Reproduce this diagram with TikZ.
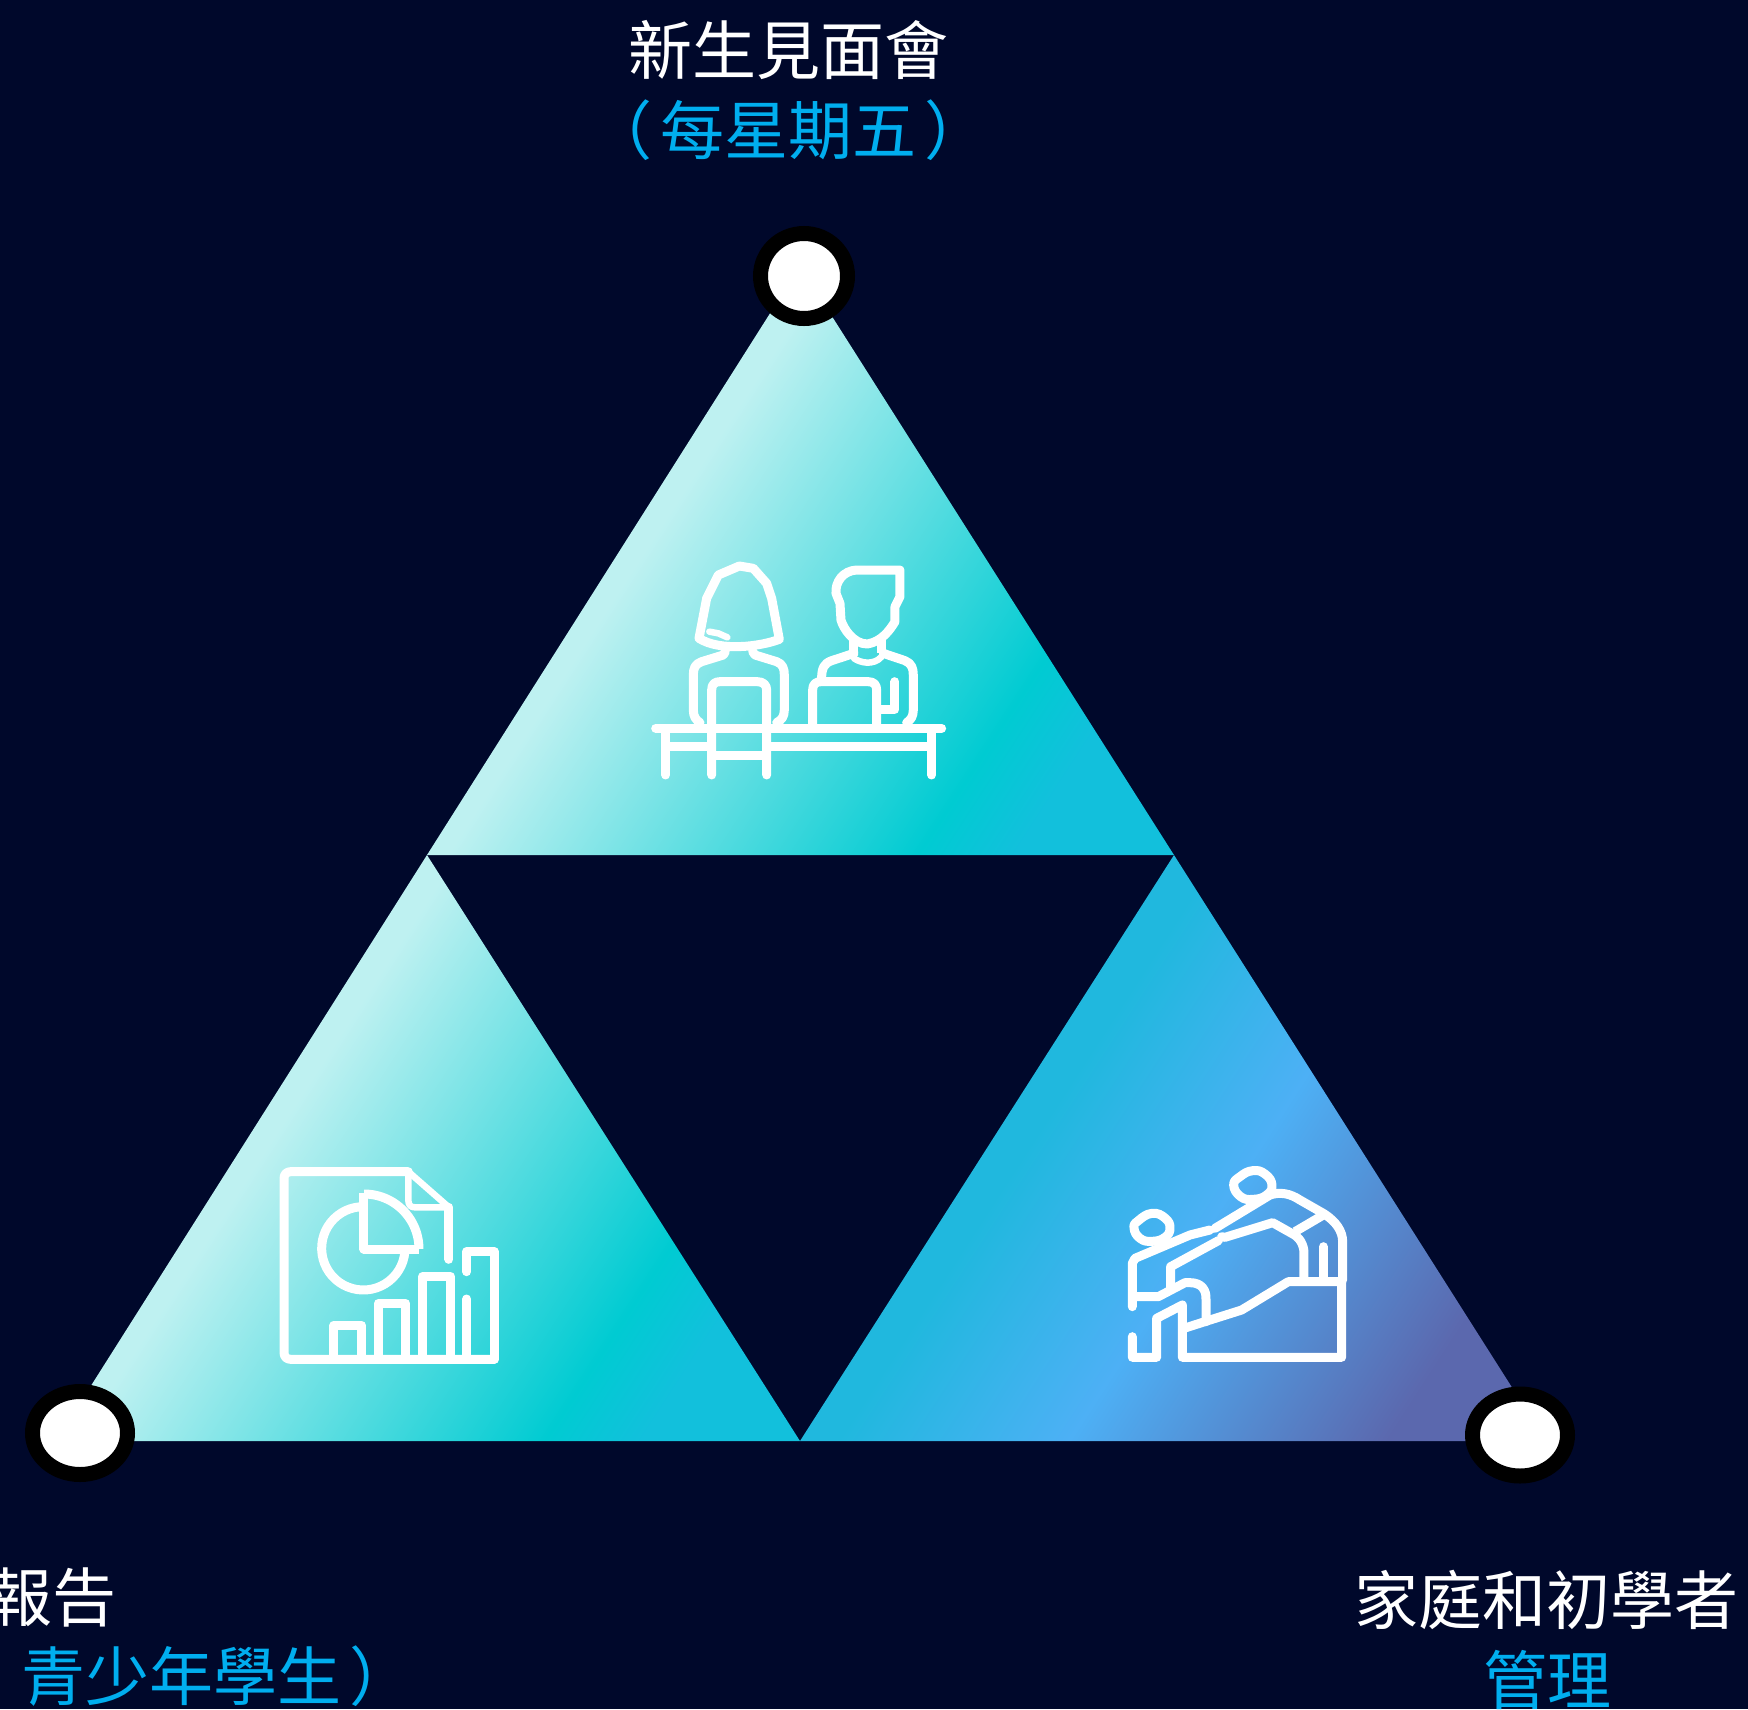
\documentclass[tikz,border=0pt]{standalone}
\usepackage{fontspec}
\newfontfamily\cjk{Noto Sans CJK TC}
\usetikzlibrary{shapes.geometric}
\definecolor{bgnavy}{HTML}{00082B}
\definecolor{capblue}{HTML}{00AEEF}
\definecolor{gA}{HTML}{BEF1F1}
\definecolor{gB}{HTML}{00CBD2}
\definecolor{gC}{HTML}{12C0DC}
\definecolor{gC2}{HTML}{20B8DE}
\definecolor{gD}{HTML}{4DB0F5}
\definecolor{gE}{HTML}{5B68AE}
\pgfdeclarehorizontalshading{lightteal}{100bp}{color(0bp)=(gA); color(40bp)=(gA); color(69bp)=(gB); color(75bp)=(gC); color(100bp)=(gC)}
\pgfdeclarehorizontalshading{bluepurple}{100bp}{color(0bp)=(gC2); color(41bp)=(gC2); color(55.3bp)=(gD); color(75bp)=(gE); color(100bp)=(gE)}
\tikzset{
  tone/.style={shading=lightteal, shading angle=-33},
  toneblue/.style={shading=bluepurple, shading angle=-33},
  ring/.style={shape=ellipse, draw=black, fill=white, line width=15pt, inner sep=0pt, outer sep=0pt},
  head/.style={font=\cjk\fontsize{64}{70}\selectfont, text=white, inner sep=0pt},
  sub/.style={font=\cjk\fontsize{64}{70}\selectfont, text=capblue, inner sep=0pt},
  icon/.style={draw=white, line width=9pt, line cap=round, line join=round},
  iconflat/.style={icon, line cap=butt},
  iconthin/.style={icon, line width=6.5pt},
  zoomA/.style={shift={(#1)}, x=0.3333pt, y=-0.3333pt},
}
\begin{document}
\begin{tikzpicture}[x=1pt,y=-1pt]
\useasboundingbox (0,0) rectangle (1748,1709);
\fill[bgnavy] (0,0) rectangle (1748,1709);
\clip (0,0) rectangle (1748,1709);
% vertices
\coordinate (T) at (800,266);
\coordinate (TL) at (427,855);
\coordinate (TR) at (1174,855);
\coordinate (BL) at (56,1441);
\coordinate (BM) at (800,1441);
\coordinate (BR) at (1546,1441);
% triangles
\shade[tone] (T) -- (TL) -- (TR) -- cycle;
\shade[tone] (TL) -- (BL) -- (BM) -- cycle;
\shade[toneblue] (TR) -- (BM) -- (BR) -- cycle;
% rings
\node[ring, minimum width=87pt, minimum height=85pt] (ringT) at (804,276) {};
\node[ring, minimum width=95pt, minimum height=83pt] (ringL) at (80,1433) {};
\node[ring, minimum width=95pt, minimum height=82pt] (ringR) at (1520,1435) {};
% captions
\node[head, anchor=base] (t1) at (788,74) {新生見面會};
\node[sub, anchor=base] (t2) at (788,154) {（\kern8pt 每星期五\kern8pt ）};
\node[head, anchor=base east] (l1) at (117,1621) {報告};
\node[sub, anchor=base west] (l2) at (21,1700) {青少年學生\kern8pt ）};
\node[head, anchor=base] (r1) at (1546,1624) {家庭和初學者};
\node[sub, anchor=base] (r2) at (1547,1704) {管理};
% icon: two people at a table
\begin{scope}[zoomA={620,540}]
\draw[icon] (237,295) -- (260,175) -- (295,105) -- (358,78) -- (400,85) -- (440,130) -- (455,175) -- (478,298) .. controls (420,320) and (300,335) .. (237,295) -- cycle;
\draw[iconthin] (268,275) -- (295,280) -- (322,292);
\draw[icon] (316,335) -- (310,345) -- (245,365) .. controls (225,372) and (220,385) .. (220,405) -- (220,510) .. controls (220,530) and (228,540) .. (240,548);
\draw[icon] (398,335) -- (405,345) -- (470,365) .. controls (488,372) and (493,385) .. (493,405) -- (493,510) .. controls (493,530) and (485,540) .. (470,548);
\draw[icon] (275,705) -- (275,450) .. controls (275,432) and (285,425) .. (300,425) -- (412,425) .. controls (430,425) and (440,435) .. (440,450) -- (440,705);
\draw[iconflat] (275,648) -- (440,648);
\draw[icon] (107,565) -- (965,565);
\draw[icon] (137,575) -- (137,705);
\draw[icon] (935,575) -- (935,705);
\draw[iconflat] (137,620) -- (275,620);
\draw[iconflat] (440,620) -- (935,620);
\draw[icon] (840,90) -- (710,90) .. controls (670,92) and (645,125) .. (648,160) -- (660,190) -- (663,240) .. controls (670,265) and (700,312) .. (742,312) .. controls (785,305) and (810,270) .. (825,245) -- (825,200) -- (840,170) -- cycle;
\draw[iconflat] (702,300) -- (702,340);
\draw[iconflat] (785,300) -- (785,340);
\draw[iconthin] (702,355) .. controls (720,368) and (760,378) .. (785,350);
\draw[icon] (702,340) -- (635,362) .. controls (612,370) and (605,385) .. (605,415);
\draw[icon] (790,340) -- (855,362) .. controls (875,370) and (880,385) .. (880,405) -- (880,510) .. controls (880,530) and (872,540) .. (860,548);
\draw[icon] (578,555) -- (578,450) .. controls (578,432) and (588,425) .. (603,425) -- (745,425) .. controls (762,425) and (770,435) .. (770,450) -- (770,555);
\draw[icon] (825,425) -- (825,508) -- (775,508);
\end{scope}
% icon: report
\begin{scope}[zoomA={260,1150}]
\draw[icon] (445,65) -- (92,65) .. controls (80,65) and (72,73) .. (72,85) -- (72,608) .. controls (72,620) and (80,628) .. (92,628) -- (703,628);
\draw[iconthin] (445,65) -- (567,172);
\draw[iconthin] (445,75) -- (445,150) .. controls (445,165) and (452,172) .. (465,172) -- (567,172);
\draw[icon] (567,172) -- (567,328);
\draw[icon] (620,365) -- (620,305) -- (703,305) -- (703,628);
\draw[icon] (620,447) -- (620,620);
\draw[iconflat] (222,620) -- (222,526) -- (305,526) -- (305,620);
\draw[iconflat] (355,620) -- (355,460) -- (437,460) -- (437,620);
\draw[iconflat] (488,620) -- (488,380) -- (572,380) -- (572,620);
\draw[iconflat] plot[domain=95:355, samples=40] ({310+125*cos(\x)},{295-125*sin(\x)});
\draw[iconflat] (312,130) -- (312,297) -- (477,297);
\draw[iconflat] plot[domain=90:0, samples=30] ({312+165*cos(\x)},{297-165*sin(\x)});
\end{scope}
% icon: helping climb
\begin{scope}[zoomA={1110,1150}]
\draw[icon] plot[smooth cycle, tension=0.8] coordinates {(371,105) (392,140) (430,148) (470,135) (486,105) (465,72) (428,62) (390,80)};
\draw[icon] plot[smooth cycle, tension=0.8] coordinates {(72,234) (90,265) (126,274) (165,262) (180,234) (165,204) (126,190) (85,212)};
\draw[icon] (315,235) -- (480,135) .. controls (510,125) and (540,130) .. (570,150) -- (640,190) .. controls (680,215) and (698,245) .. (698,275) -- (698,390);
\draw[icon] (335,260) -- (345,262) -- (488,218) -- (545,250) .. controls (570,262) and (582,285) .. (582,310) -- (582,390);
\draw[iconflat] (555,245) -- (640,195);
\draw[icon] (640,290) -- (640,390);
\draw[icon] (300,240) -- (240,255) -- (75,325) -- (67,340) -- (67,470);
\draw[icon] (325,272) -- (182,350) -- (182,415);
\draw[icon] (70,440) -- (145,440) -- (225,398) -- (240,398) .. controls (275,398) and (290,420) .. (288,450) -- (288,515);
\draw[icon] (67,560) -- (67,622) -- (140,622) -- (140,505) -- (217,465) -- (217,622) -- (695,622) -- (695,395) -- (535,395) -- (395,480) -- (300,510) -- (222,535);
\end{scope}
\end{tikzpicture}
\end{document}
